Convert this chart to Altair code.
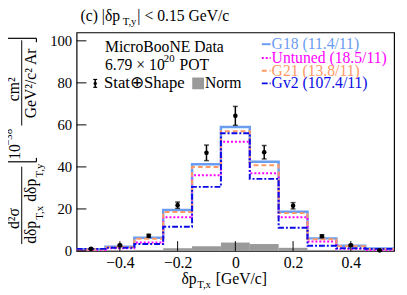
import altair as alt
import pandas as pd

# ---------------- data ----------------
edges = [-0.55, -0.45, -0.35, -0.25, -0.15, -0.05, 0.05, 0.15, 0.25, 0.35, 0.45, 0.55]
centers = [-0.5, -0.4, -0.3, -0.2, -0.1, 0.0, 0.1, 0.2, 0.3, 0.4, 0.5]
g18 = [0.8, 2.0, 6.3, 19.5, 41.3, 59.0, 42.5, 18.7, 6.0, 2.5, 1.2]
untuned = [0.5, 1.3, 4.0, 16.0, 36.0, 52.0, 37.0, 16.0, 4.5, 1.0, 0.5]
g21 = [0.7, 1.8, 5.8, 18.5, 40.0, 57.0, 40.8, 18.0, 5.6, 2.2, 1.0]
gv2 = [1.0, 1.5, 3.3, 11.5, 30.5, 56.0, 34.3, 11.0, 2.5, 1.3, 1.0]
data_vals = [1.0, 2.7, 7.2, 21.8, 46.7, 64.3, 47.0, 21.5, 7.0, 2.7, 0.3]
data_err = [0.3, 0.4, 0.7, 1.5, 3.7, 4.5, 3.2, 1.5, 0.7, 0.4, 0.3]
norm_vals = [0.1, 0.3, 0.5, 1.3, 2.2, 4.0, 3.3, 1.5, 0.5, 0.3, 0.1]
x_ticks = [-0.4, -0.2, 0.0, 0.2, 0.4]
y_ticks = [0, 20, 40, 60, 80, 100]

series = [
    ("G18 (11.4/11)", g18, "#6a9cf0", [1, 0]),
    ("Untuned (18.5/11)", untuned, "#ff00ff", [2, 2]),
    ("G21 (13.8/11)", g21, "#ff9a66", [5, 3]),
    ("Gv2 (107.4/11)", gv2, "#0a0ae6", [6, 2, 2, 2]),
]

W, H = 324, 223
FONT = "Liberation Serif"

xscale = alt.Scale(domain=[-0.55, 0.55], nice=False, zero=False)
yscale = alt.Scale(domain=[0, 104], nice=False, zero=False)
xaxis = alt.Axis(values=x_ticks, title=None, ticks=False, domain=False, grid=False,
                 labelPadding=4, labelFontSize=16,
                 labelExpr="datum.value == 0 ? '0' : format(datum.value, '.1f')")
yaxis = alt.Axis(values=y_ticks, title=None, ticks=False, domain=False, grid=False,
                 labelPadding=5, labelFontSize=15, format="d")


def X(f):
    return alt.X(f"{f}:Q", scale=xscale, axis=xaxis)


def Y(f):
    return alt.Y(f"{f}:Q", scale=yscale, axis=yaxis)


layers = []

# Norm band
norm_df = pd.DataFrame({"lo": edges[:-1], "hi": edges[1:], "v": norm_vals, "z": [0] * 11})
layers.append(alt.Chart(norm_df).mark_rect(color="#9a9a9a").encode(
    x=X("lo"), x2="hi", y=Y("z"), y2="v"))

# histograms
for name, vals, col, dash in series:
    df = pd.DataFrame({"x": edges, "y": vals + [vals[-1]]})
    layers.append(alt.Chart(df).mark_line(
        interpolate="step-after", color=col, strokeWidth=2 if dash != [1, 0] else 2.5,
        strokeDash=dash).encode(x=X("x"), y=Y("y")))

# data points
pts = pd.DataFrame({"x": centers, "y": data_vals,
                    "lo": [v - e for v, e in zip(data_vals, data_err)],
                    "hi": [v + e for v, e in zip(data_vals, data_err)]})
base = alt.Chart(pts)
layers.append(base.mark_rule(color="black", strokeWidth=1.5).encode(x=X("x"), y=Y("lo"), y2="hi"))
layers.append(base.mark_tick(color="black", orient="horizontal", size=5, thickness=1.5).encode(x=X("x"), y=Y("lo")))
layers.append(base.mark_tick(color="black", orient="horizontal", size=5, thickness=1.5).encode(x=X("x"), y=Y("hi")))
layers.append(base.mark_circle(color="black", size=22, opacity=1).encode(x=X("x"), y=Y("y")))

# inward ticks
ytk = pd.DataFrame({"v": y_ticks})
layers.append(alt.Chart(ytk).mark_rule(color="black", strokeWidth=1).encode(
    y=Y("v"), x=alt.value(0), x2=alt.value(10)))
xtk = pd.DataFrame({"v": x_ticks})
layers.append(alt.Chart(xtk).mark_rule(color="black", strokeWidth=1).encode(
    x=X("v"), y=alt.value(H), y2=alt.value(H - 10)))


def txt(s, x, y, size=16, color="black", angle=0, align="left", baseline="middle"):
    return alt.Chart(pd.DataFrame({"t": [s]})).mark_text(
        font=FONT, fontSize=size, color=color, angle=angle, align=align,
        baseline=baseline).encode(x=alt.value(x), y=alt.value(y), text="t:N")


def seg(x1, y1, x2, y2, color="black", w=1.0, dash=None):
    kw = dict(color=color, strokeWidth=w)
    if dash:
        kw["strokeDash"] = dash
    return alt.Chart(pd.DataFrame({"a": [0]})).mark_rule(**kw).encode(
        x=alt.value(x1), y=alt.value(y1), x2=alt.value(x2), y2=alt.value(y2))


OX, OY = 78, 30  # plot origin in page pixels


def A(x, y):
    return x - OX, y - OY


# title
tx, ty = A(82, 13)
layers.append(txt("(c) |δp", tx, ty, 16))
layers.append(txt("T,y", tx + 43, ty + 6, 11))
layers.append(txt("| < 0.15 GeV/c", tx + 58, ty, 16))

# data legend
lx, ly = A(107, 45)
layers.append(txt("MicroBooNE Data", lx, ly, 16))
lx2, ly2 = A(107, 63)
layers.append(txt("6.79 × 10", lx2, ly2, 16))
layers.append(txt("20", lx2 + 60, ly2 - 6, 11))
layers.append(txt("POT", lx2 + 76, ly2, 16))
ex, ey = A(97, 82)
layers.append(seg(ex, ey - 4, ex, ey + 4, w=1.5))
layers.append(seg(ex - 2, ey - 4, ex + 2, ey - 4, w=1.2))
layers.append(seg(ex - 2, ey + 4, ex + 2, ey + 4, w=1.2))
layers.append(alt.Chart(pd.DataFrame({"a": [0]})).mark_circle(color="black", size=12, opacity=1).encode(
    x=alt.value(ex), y=alt.value(ey)))
layers.append(txt("Stat⊕Shape", *A(106, 82), 17))
nx1, ny1 = A(196, 76)
layers.append(alt.Chart(pd.DataFrame({"a": [0]})).mark_rect(color="#9a9a9a").encode(
    x=alt.value(nx1), x2=alt.value(nx1 + 12), y=alt.value(ny1), y2=alt.value(ny1 + 12)))
layers.append(txt("Norm", *A(209, 82), 16))

# model legend
for i, (name, vals, col, dash) in enumerate(series):
    yy = [42, 56, 69, 82][i]
    sx, sy = A(267, yy)
    layers.append(seg(sx, sy, sx + 9, sy, color=col, w=2, dash=dash if dash != [1, 0] else None))
    layers.append(txt(name, sx + 10, sy, 16, color=col))


# y title (rotated)
def R(s, ax, ay, size=16, align="center"):
    x, y = A(ax, ay)
    return txt(s, x, y, size, angle=270, align=align)


layers.append(R("d²σ", 14, 220))
layers.append(seg(*A(22, 167), *A(22, 246), w=1))
layers.append(R("dδp", 32, 234))
layers.append(R("T,x", 41, 214, 11))
layers.append(R("dδp", 32, 191))
layers.append(R("T,y", 41, 171, 11))
# bracket part
layers.append(R("10", 15, 152))
layers.append(R("−38", 9, 137, 11))
layers.append(R("cm²", 14, 88))
layers.append(seg(*A(22, 38), *A(22, 125), w=1))
layers.append(R("GeV²/c² Ar", 32, 82))
# brackets
bx1, bx2 = A(6, 0)[0], A(37, 0)[0]
_, by_top = A(0, 36)
_, by_bot = A(0, 162)
layers.append(seg(bx1, by_top, bx2, by_top, w=1.2))
layers.append(seg(bx1, by_top, bx1, by_top + 4, w=1.2))
layers.append(seg(bx2, by_top, bx2, by_top + 4, w=1.2))
layers.append(seg(bx1, by_bot, bx2, by_bot, w=1.2))
layers.append(seg(bx1, by_bot, bx1, by_bot - 4, w=1.2))
layers.append(seg(bx2, by_bot, bx2, by_bot - 4, w=1.2))

# x title
xt, yt = A(185, 282)
layers.append(txt("δp", xt, yt, 16))
layers.append(txt("T,x", xt + 16, yt + 6, 11))
layers.append(txt("[GeV/c]", xt + 35, yt, 16))

chart = alt.layer(*layers).properties(
    width=W, height=H,
    autosize=alt.AutoSizeParams(type="none"),
    padding={"left": 70, "top": 22, "right": 5, "bottom": 42},
).configure_view(stroke="black", strokeWidth=1.2).configure_axis(
    labelFont=FONT, labelColor="black"
)

chart.save("out.html", embed_options={"renderer": "svg", "actions": False})
